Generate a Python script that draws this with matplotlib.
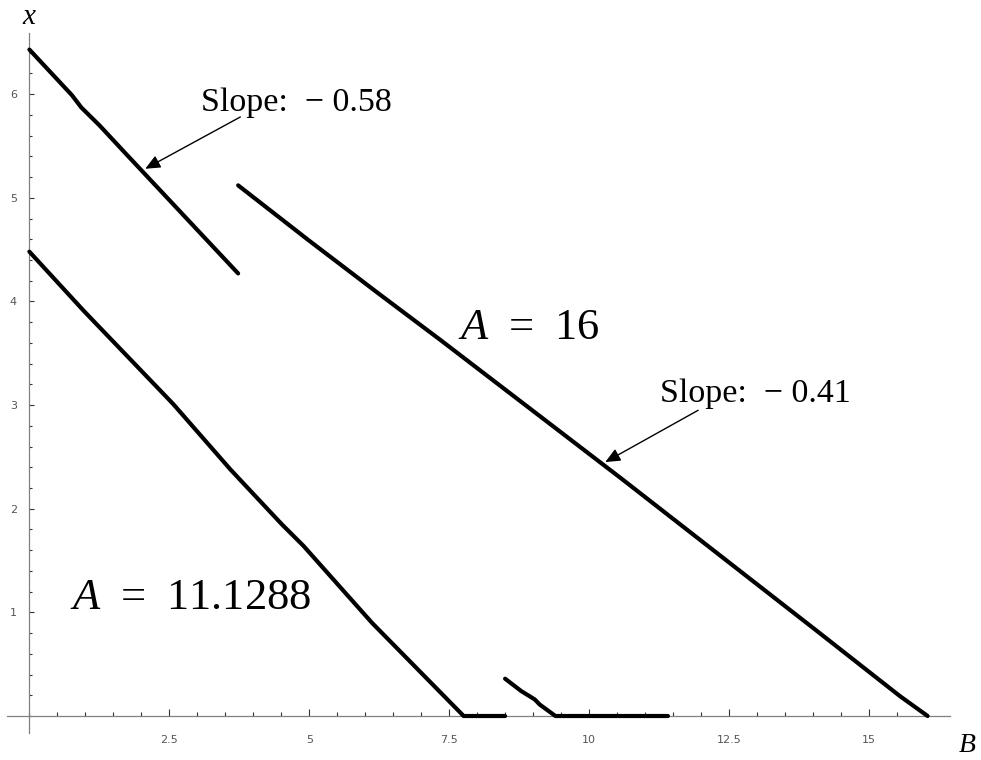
import matplotlib.pyplot as plt
from matplotlib.ticker import MultipleLocator, FixedLocator, FixedFormatter

# upper-left branch (slope -0.58)
b_upper = [0.0, 0.76, 0.93, 1.25, 1.75, 3.73]
x_upper = [6.43, 5.99, 5.87, 5.70, 5.41, 4.27]

# A = 16 branch (slope -0.41)
b_a16 = [3.73, 4.99, 6.23, 7.34, 10.58, 14.05, 15.56, 16.05]
x_a16 = [5.12, 4.59, 4.08, 3.63, 2.29, 0.83, 0.19, 0.0]

# A = 11.1288 branch, then flat at zero
b_a11 = [0.0, 0.97, 2.57, 3.59, 4.51, 4.90, 5.79, 6.12, 7.76, 8.50]
x_a11 = [4.48, 3.91, 3.01, 2.38, 1.85, 1.64, 1.10, 0.90, 0.0, 0.0]

# small piece near B = 9, then flat at zero
b_small = [8.50, 8.79, 9.03, 9.12, 9.40, 11.41]
x_small = [0.36, 0.24, 0.16, 0.11, 0.0, 0.0]

x_ticks = [2.5, 5, 7.5, 10, 12.5, 15]
x_tick_labels = ["2.5", "5", "7.5", "10", "12.5", "15"]
y_ticks = [1, 2, 3, 4, 5, 6]

serif = "Liberation Serif"
plt.rcParams["mathtext.fontset"] = "custom"
plt.rcParams["mathtext.rm"] = serif
plt.rcParams["mathtext.it"] = serif + ":italic"

fig = plt.figure(figsize=(9.81, 7.60), dpi=100)
ax = fig.add_axes([7 / 981, 27 / 760, 943 / 981, 700 / 760])
ax.set_xlim(-0.40, 16.45)
ax.set_ylim(-0.164, 6.59)

for s in ["top", "right"]:
    ax.spines[s].set_visible(False)
for s in ["left", "bottom"]:
    ax.spines[s].set_position(("data", 0))
    ax.spines[s].set_color("#808080")
    ax.spines[s].set_linewidth(0.9)

ax.xaxis.set_major_locator(FixedLocator(x_ticks))
ax.xaxis.set_major_formatter(FixedFormatter(x_tick_labels))
ax.xaxis.set_minor_locator(MultipleLocator(0.5))
ax.yaxis.set_major_locator(FixedLocator(y_ticks))
ax.yaxis.set_minor_locator(MultipleLocator(0.2))

ax.tick_params(axis="x", which="major", direction="in", length=5, width=0.8,
               color="#333333", labelsize=8, labelcolor="#555555", pad=14)
ax.tick_params(axis="x", which="minor", direction="in", length=3, width=0.8,
               color="#333333")
ax.tick_params(axis="y", which="major", direction="in", length=3.5, width=0.8,
               color="#333333", labelsize=8, labelcolor="#555555", pad=9)
ax.tick_params(axis="y", which="minor", direction="in", length=2.5, width=0.8,
               color="#333333")

lw = 3
for bs, xs in [(b_upper, x_upper), (b_a16, x_a16), (b_a11, x_a11), (b_small, x_small)]:
    ax.plot(bs, xs, color="black", lw=lw, solid_capstyle="round",
            solid_joinstyle="round", clip_on=False, zorder=3)

arrow = dict(arrowstyle="-|>, head_length=0.45, head_width=0.2", color="black",
             lw=1.0, mutation_scale=20, shrinkA=0, shrinkB=0)
ax.annotate("", xy=(2.07, 5.28), xytext=(3.77, 5.78), arrowprops=arrow)
ax.annotate("", xy=(10.29, 2.45), xytext=(11.95, 2.95), arrowprops=arrow)

ax.text(3.07, 5.84, "Slope:  \u2212 0.58", family=serif, fontsize=24.5, va="baseline")
ax.text(11.27, 3.03, "Slope:  \u2212 0.41", family=serif, fontsize=24.5, va="baseline")
ax.text(7.66, 3.64, r"$A\;\,=\;\,16$", fontsize=32, va="baseline")
ax.text(0.73, 1.03, r"$A\;\,=\;\,11.1288$", fontsize=32, va="baseline")

fig.text(28.5 / 981, 1 - 17 / 760, "x", family=serif, style="italic", fontsize=21,
         ha="center", va="center")
fig.text(967 / 981, 1 - 746 / 760, "B", family=serif, style="italic", fontsize=20,
         ha="center", va="center")

fig.savefig("out.png", dpi=100)
